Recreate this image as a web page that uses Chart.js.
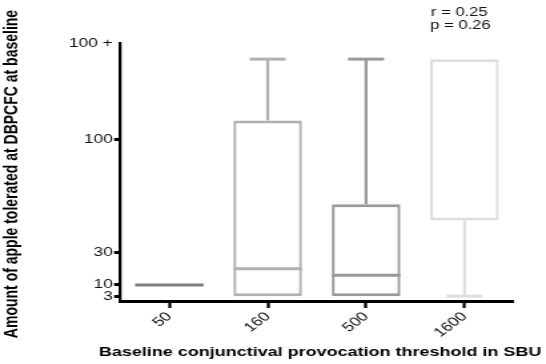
<!DOCTYPE html>
<html lang="en">
<head>
<meta charset="UTF-8">
<title>Apple tolerance by conjunctival threshold</title>
<script src="https://cdn.jsdelivr.net/npm/chart.js"></script>
<style>
  html, body { margin: 0; padding: 0; background: #fff; overflow: hidden; }
  /* the reference is stretched sideways, so draw narrow and widen */
  #wrap { width: 410px; height: 364px; transform: scaleX(1.3317); transform-origin: 0 0; }
</style>
</head>
<body>
<div id="wrap"><canvas id="boxChart" width="410" height="364"></canvas></div>
<script>
const categories = ['50', '160', '500', '1600'];
const minVals    = [10, 3, 3, 3];
const q1Vals     = [10, 3, 3, 50];
const medianVals = [10, 20, 16, 150];
const q3Vals     = [10, 112, 60, 150];
const maxVals    = [10, 150, 150, 150];
const boxColors  = ['#808080', '#b0b0b0', '#999999', '#dedede'];

const yTickValues = [3, 10, 30, 100, 160];
const yTickLabels = ['3', '10', '30', '100', '100 +'];

const xTitle = 'Baseline conjunctival provocation threshold in SBU';
const yTitle = 'Amount of apple tolerated at DBPCFC at baseline';

const SX = 1.3317;          // horizontal stretch
const BAR_PCT = 0.697;
const CAP_W = 36 / SX;
const FONT = "'Liberation Sans', Arial, sans-serif";

Chart.defaults.font.family = FONT;

// whiskers, caps, medians, axis titles and the r/p note
const whiskerPlugin = {
    id: 'whiskers',
    afterDatasetsDraw(chart) {
        const { ctx, scales: { x, y } } = chart;
        const boxW = x.width / categories.length * BAR_PCT;
        ctx.save();
        ctx.lineCap = 'butt';
        categories.forEach((c, i) => {
            const cx = x.getPixelForValue(i);
            ctx.strokeStyle = boxColors[i];
            // vertical whiskers
            ctx.lineWidth = 3 / SX;
            if (maxVals[i] > q3Vals[i]) {
                ctx.beginPath();
                ctx.moveTo(cx, y.getPixelForValue(q3Vals[i]));
                ctx.lineTo(cx, y.getPixelForValue(maxVals[i]));
                ctx.stroke();
            }
            if (minVals[i] < q1Vals[i]) {
                ctx.beginPath();
                ctx.moveTo(cx, y.getPixelForValue(q1Vals[i]));
                ctx.lineTo(cx, y.getPixelForValue(minVals[i]));
                ctx.stroke();
            }
            // caps
            ctx.lineWidth = 3;
            [minVals[i], maxVals[i]].forEach((v, k) => {
                const edge = k === 0 ? q1Vals[i] : q3Vals[i];
                if (v === edge) return;
                const py = y.getPixelForValue(v);
                ctx.beginPath();
                ctx.moveTo(cx - CAP_W / 2, py);
                ctx.lineTo(cx + CAP_W / 2, py);
                ctx.stroke();
            });
            // median
            const degenerate = q1Vals[i] === q3Vals[i];
            if (degenerate || (medianVals[i] !== q3Vals[i] && medianVals[i] !== q1Vals[i])) {
                const my = y.getPixelForValue(medianVals[i]);
                ctx.beginPath();
                ctx.moveTo(cx - boxW / 2, my);
                ctx.lineTo(cx + boxW / 2, my);
                ctx.stroke();
            }
        });
        ctx.fillStyle = '#111';
        ctx.font = "12.5px " + FONT;
        ctx.textBaseline = 'middle';
        ctx.textAlign = 'left';
        ctx.fillText('r = 0.25', 323.5, 12.5);
        ctx.fillText('p = 0.26', 323, 25.5);

        // axis titles (Chart.js would squeeze them to the axis length)
        ctx.fillStyle = '#000';
        ctx.textAlign = 'center';
        ctx.font = "bold 13.5px " + FONT;
        ctx.fillText(xTitle, 240.3, 352);
        ctx.translate(9.6, 174);
        ctx.rotate(-Math.PI / 2);
        ctx.font = "bold 14px " + FONT;
        ctx.fillText(yTitle, 0, 0);
        ctx.restore();
    }
};

new Chart(document.getElementById('boxChart'), {
    type: 'bar',
    data: {
        labels: categories,
        datasets: [{
            data: categories.map((c, i) => q1Vals[i] === q3Vals[i] ? null : [q1Vals[i], q3Vals[i]]),
            backgroundColor: '#ffffff',
            borderColor: boxColors,
            borderWidth: { top: 3, bottom: 3, left: 3 / SX, right: 3 / SX },
            borderSkipped: false,
            barPercentage: BAR_PCT,
            categoryPercentage: 1
        }]
    },
    options: {
        responsive: false,
        animation: false,
        layout: { padding: { top: 43, right: 24.3, left: 0, bottom: 0 } },
        plugins: {
            legend: { display: false },
            tooltip: { enabled: false }
        },
        scales: {
            x: {
                grid: { display: true, drawOnChartArea: false, offset: false, tickLength: 7, tickWidth: 3 / SX, tickColor: '#000' },
                border: { display: true, color: '#000', width: 3 },
                ticks: { color: '#111', font: { size: 13 }, minRotation: 45, maxRotation: 45, padding: 1 },
                afterFit: s => { s.height = 63; }
            },
            y: {
                min: 0,
                max: 160,
                afterBuildTicks: s => { s.ticks = yTickValues.map(v => ({ value: v })); },
                grid: {
                    drawOnChartArea: false,
                    tickLength: 4.5,
                    tickWidth: 3,
                    tickColor: c => (c.tick && c.tick.value === 160) ? 'rgba(0,0,0,0)' : '#000'
                },
                border: { display: true, color: '#000', width: 3 / SX },
                ticks: {
                    autoSkip: false,
                    color: '#111',
                    font: { size: 13 },
                    padding: 1,
                    callback: (v, idx) => yTickLabels[idx]
                },
                afterFit: s => { s.width = 90.2; }
            }
        }
    },
    plugins: [whiskerPlugin]
});
</script>
</body>
</html>
